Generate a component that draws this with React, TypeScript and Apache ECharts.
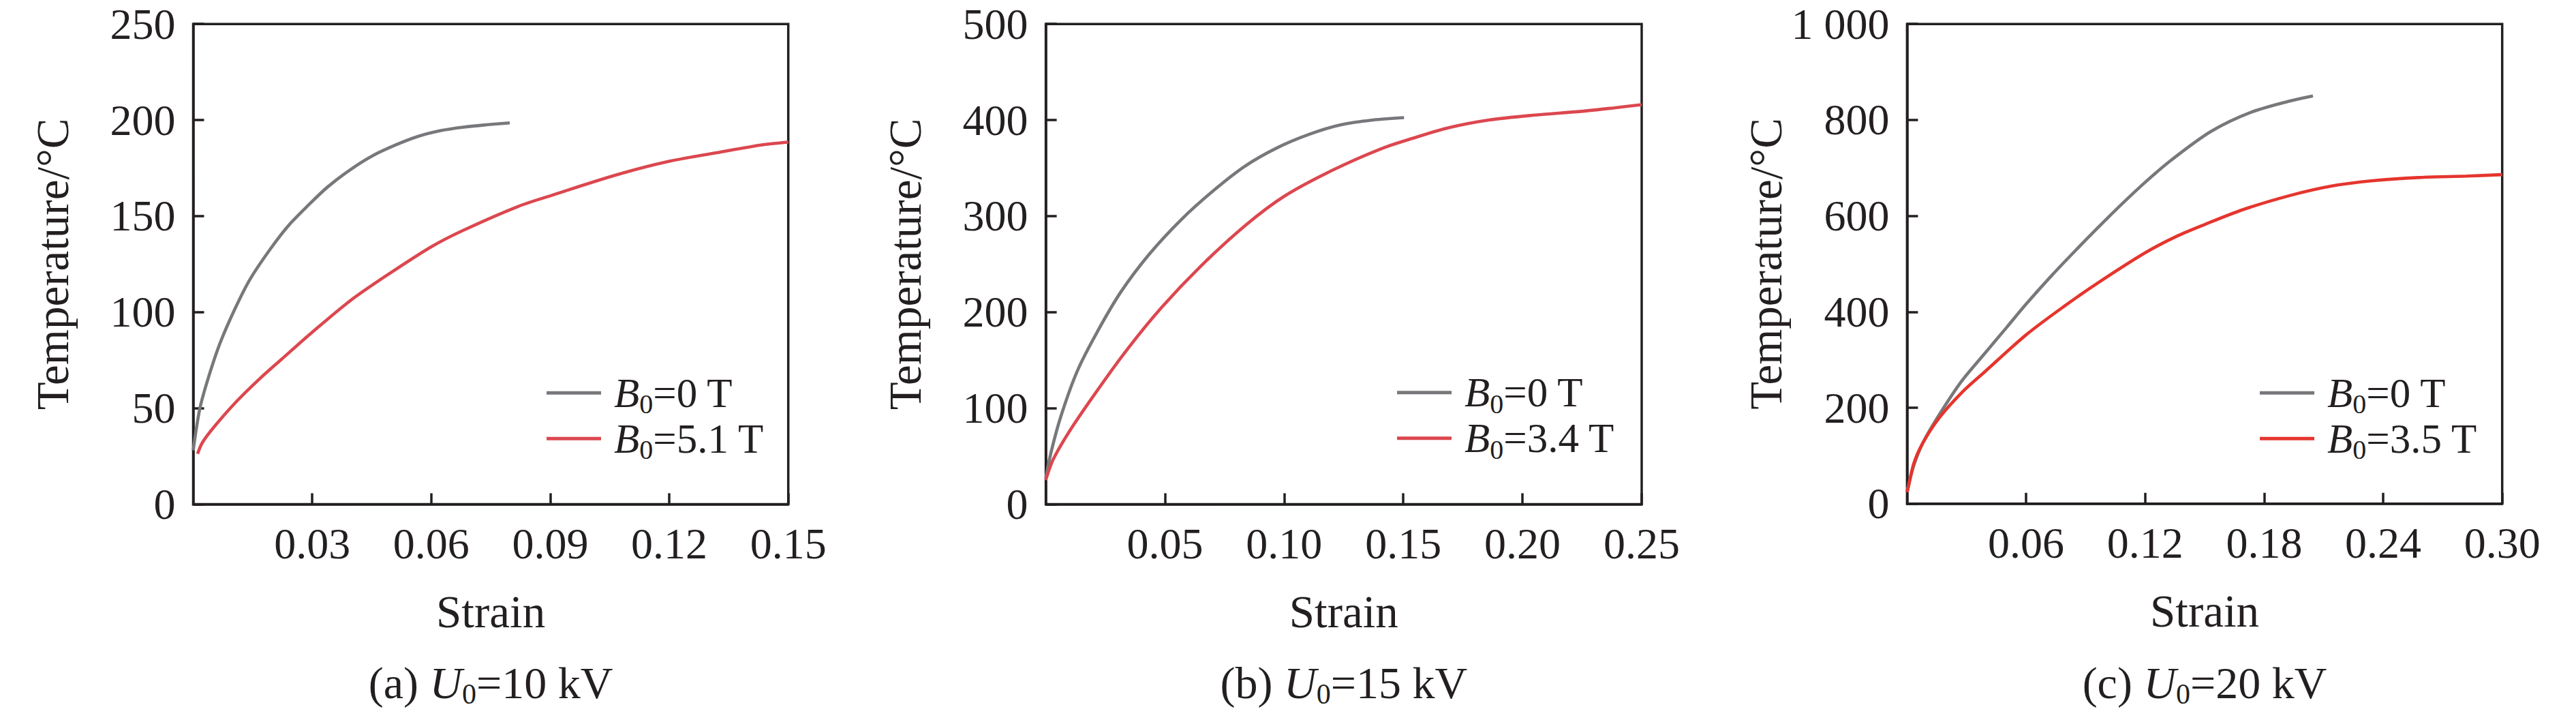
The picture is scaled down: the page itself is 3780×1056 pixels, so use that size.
import React, { useEffect, useRef } from "react";
import * as echarts from "echarts";

// ---------- data ----------
// Panel (a) U0 = 10 kV
const strainA0 = [0, 0.0017, 0.004, 0.0068, 0.0106, 0.0143, 0.0195, 0.024, 0.0292, 0.0338, 0.0395, 0.0452, 0.051, 0.0567, 0.0624, 0.0681, 0.0739, 0.0798];
const tempA0 = [28, 50, 67, 84, 102, 117, 133, 145, 156, 165, 174, 181.4, 187, 191.5, 194.5, 196.3, 197.5, 198.5];
const strainA1 = [0.0011, 0.0023, 0.0051, 0.0108, 0.0166, 0.0223, 0.03, 0.0395, 0.0487, 0.06, 0.0681, 0.0819, 0.0907, 0.1068, 0.12, 0.132, 0.1431, 0.15];
const tempA1 = [26.2, 32, 39.8, 53.2, 65, 75.5, 89.5, 105.8, 119, 134, 142.6, 155, 161, 171.5, 178.5, 183, 187, 188.5];

// Panel (b) U0 = 15 kV
const strainB0 = [0, 0.0022, 0.0064, 0.0131, 0.0215, 0.0315, 0.0433, 0.0567, 0.0701, 0.0836, 0.097, 0.1104, 0.1238, 0.1372, 0.1503];
const tempB0 = [27, 54, 92, 138, 179, 221, 260, 296, 326, 352, 371, 385, 395, 400, 402.5];
const strainB1 = [0, 0.003, 0.0097, 0.0198, 0.0332, 0.0483, 0.0651, 0.0836, 0.1003, 0.1205, 0.1406, 0.154, 0.1691, 0.1859, 0.2044, 0.2245, 0.2379, 0.25];
const tempB1 = [25, 46, 75, 112, 158, 204, 248, 290, 321, 348, 370, 381, 392, 400, 405, 409, 412.5, 416];

// Panel (c) U0 = 20 kV
const strainC0 = [0, 0.0034, 0.008, 0.016, 0.0274, 0.0389, 0.0503, 0.06, 0.0732, 0.0847, 0.0961, 0.1076, 0.12, 0.1331, 0.1532, 0.1734, 0.1935, 0.2046];
const tempC0 = [25, 80, 127, 184, 255, 312, 368, 416, 477, 527, 575, 622, 670, 716, 776, 816, 840, 850];
const strainC1 = [0, 0.0005, 0.0034, 0.008, 0.016, 0.0274, 0.0389, 0.06, 0.079, 0.0961, 0.12, 0.1362, 0.15, 0.1693, 0.1935, 0.2137, 0.2339, 0.258, 0.2822, 0.3];
const tempC1 = [24, 32, 84, 127, 178, 231, 274, 352, 411, 460, 523, 558, 582, 613, 643, 662, 673, 680, 683, 686];

// axes
const xMaxes = [0.15, 0.25, 0.3];
const xIntervals = [0.03, 0.05, 0.06];
const yMaxes = [250, 500, 1000];
const yIntervals = [50, 100, 200];

// texts
const captionPrefixes = ["(a) ", "(b) ", "(c) "];
const captionVoltages = ["=10 kV", "=15 kV", "=20 kV"];
const fieldValues = [
  ["=0 T", "=5.1 T"],
  ["=0 T", "=3.4 T"],
  ["=0 T", "=3.5 T"],
];
const xAxisTitle = "Strain";
const yAxisTitle = "Temperature/°C";

// ---------- styling / layout ----------
const FONT = '"Liberation Serif", "Times New Roman", Times, serif';
const INK = "#231f20";
const GRAY = "#77787b";
const REDS = ["#dc474f", "#dc474f", "#e5352e"];
const GRIDS = [
  { left: 283.5, top: 35.2, width: 873.2, height: 704.2 },
  { left: 1534.6, top: 35.2, width: 874.4, height: 704.2 },
  { left: 2798.4, top: 35.2, width: 873.3, height: 703.6 },
];
const LEGEND_POS = [
  { left: 802, top: 545.8 },
  { left: 2050, top: 545.3 },
  { left: 3316, top: 545.8 },
];

const zip = (xs: number[], ys: number[]) => xs.map((x, i) => [x, ys[i]]);
const seriesData = [
  [zip(strainA0, tempA0), zip(strainA1, tempA1)],
  [zip(strainB0, tempB0), zip(strainB1, tempB1)],
  [zip(strainC0, tempC0), zip(strainC1, tempC1)],
];

const legendRich = {
  b: { fontFamily: FONT, fontSize: 61, fontStyle: "italic", color: INK, lineHeight: 73, verticalAlign: "middle", padding: [0, 0, 0, 14] },
  s: { fontFamily: FONT, fontSize: 40, color: INK, lineHeight: 28, verticalAlign: "bottom" },
  m: { fontFamily: FONT, fontSize: 61, color: INK, lineHeight: 73, verticalAlign: "middle" },
};

const captionRich = {
  m: { fontFamily: FONT, fontSize: 66, fill: INK, lineHeight: 76, verticalAlign: "middle" },
  u: { fontFamily: FONT, fontSize: 66, fontStyle: "italic", fill: INK, lineHeight: 76, verticalAlign: "middle" },
  s: { fontFamily: FONT, fontSize: 42, fill: INK, lineHeight: 32, verticalAlign: "bottom" },
};

function buildOption() {
  const grid: any[] = [];
  const xAxis: any[] = [];
  const yAxis: any[] = [];
  const series: any[] = [];
  const legend: any[] = [];
  const graphic: any[] = [];

  for (let i = 0; i < 3; i++) {
    const g = GRIDS[i];
    grid.push({
      ...g,
      show: true,
      borderColor: INK,
      borderWidth: 3.5,
      backgroundColor: "transparent",
      containLabel: false,
    });
    xAxis.push({
      type: "value",
      gridIndex: i,
      min: 0,
      max: xMaxes[i],
      interval: xIntervals[i],
      axisLine: { show: true, onZero: false, lineStyle: { color: INK, width: 3.5 } },
      axisTick: { show: true, inside: true, length: 16, lineStyle: { color: INK, width: 3.5 } },
      axisLabel: {
        showMinLabel: false,
        margin: 26,
        color: INK,
        fontFamily: FONT,
        fontSize: 64,
        lineHeight: 64,
        formatter: (v: number) => v.toFixed(2),
      },
      splitLine: { show: false },
      name: xAxisTitle,
      nameLocation: "middle",
      nameGap: 124,
      nameTextStyle: { color: INK, fontFamily: FONT, fontSize: 67, lineHeight: 67 },
    });
    yAxis.push({
      type: "value",
      gridIndex: i,
      min: 0,
      max: yMaxes[i],
      interval: yIntervals[i],
      axisLine: { show: true, onZero: false, lineStyle: { color: INK, width: 3.5 } },
      axisTick: { show: true, inside: true, length: 16, lineStyle: { color: INK, width: 3.5 } },
      axisLabel: {
        margin: 26,
        color: INK,
        fontFamily: FONT,
        fontSize: 64,
        lineHeight: 64,
        formatter: (v: number) => (v >= 1000 ? "1 000" : String(v)),
      },
      splitLine: { show: false },
      name: yAxisTitle,
      nameLocation: "middle",
      nameGap: 173,
      nameTextStyle: { color: INK, fontFamily: FONT, fontSize: 67, lineHeight: 67 },
    });

    const names = [`p${i}-B0${fieldValues[i][0]}`, `p${i}-B0${fieldValues[i][1]}`];
    const colors = [GRAY, REDS[i]];
    for (let k = 0; k < 2; k++) {
      series.push({
        type: "line",
        name: names[k],
        xAxisIndex: i,
        yAxisIndex: i,
        data: seriesData[i][k],
        showSymbol: false,
        symbol: "none",
        smooth: 0.3,
        color: colors[k],
        lineStyle: { color: colors[k], width: 4.6 },
        z: 2 + k,
      });
    }
    const labelOf: Record<string, string> = {
      [names[0]]: `{b|B}{s|0}{m|${fieldValues[i][0]}}`,
      [names[1]]: `{b|B}{s|0}{m|${fieldValues[i][1]}}`,
    };
    legend.push({
      data: names,
      orient: "vertical",
      left: LEGEND_POS[i].left,
      top: LEGEND_POS[i].top,
      padding: 0,
      itemGap: 0,
      itemWidth: 80,
      itemHeight: 5,
      icon: "rect",
      selectedMode: false,
      formatter: (n: string) => labelOf[n] || n,
      textStyle: { color: INK, fontFamily: FONT, fontSize: 61, rich: legendRich },
    });

    graphic.push({
      type: "text",
      x: g.left + g.width / 2,
      y: 1001,
      style: {
        text: `{m|${captionPrefixes[i]}}{u|U}{s|0}{m|${captionVoltages[i]}}`,
        rich: captionRich,
        fontFamily: FONT,
        fontSize: 66,
        fill: INK,
        align: "center",
        verticalAlign: "middle",
      },
    });
  }

  return {
    animation: false,
    backgroundColor: "#ffffff",
    grid,
    xAxis,
    yAxis,
    series,
    legend,
    graphic,
  };
}

export default function App() {
  const ref = useRef<HTMLDivElement | null>(null);
  useEffect(() => {
    document.body.style.margin = "0";
    if (!ref.current) return;
    const chart = echarts.init(ref.current, undefined, { renderer: "svg", width: 3780, height: 1056 });
    chart.setOption(buildOption() as any);
    return () => {
      chart.dispose();
    };
  }, []);
  return (
    <div
      ref={ref}
      style={{ position: "absolute", left: 0, top: 0, width: 3780, height: 1056, background: "#fff" }}
    />
  );
}
